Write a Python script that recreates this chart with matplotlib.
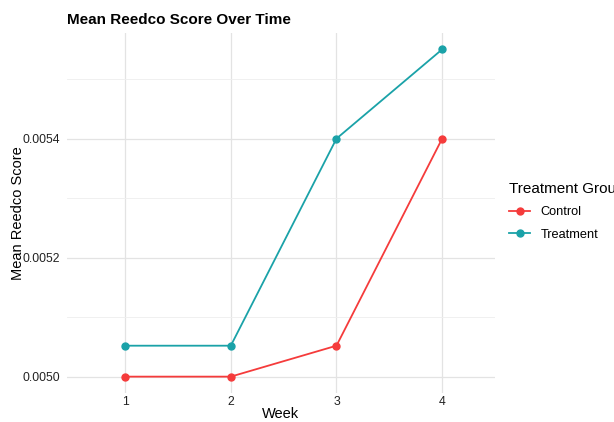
import matplotlib
matplotlib.use("Agg")
import matplotlib.pyplot as plt

weeks = [1, 2, 3, 4]
control = [0.005000, 0.005000, 0.005052, 0.005400]
treatment = [0.005052, 0.005052, 0.005400, 0.005550]
yticks = [0.0050, 0.0052, 0.0054]
ytick_labels = ["0.0050", "0.0052", "0.0054"]

plt.rcParams["font.family"] = ["Liberation Sans", "DejaVu Sans"]

fig = plt.figure(figsize=(6.14, 4.22), dpi=100)
# panel box in pixels
ax = fig.add_axes([67 / 614, 1 - 393 / 422, (495 - 67) / 614, (393 - 33) / 422])

ax.plot(weeks, control, color="#F53B3B", marker="o", markersize=5, lw=1.3, label="Control")
ax.plot(weeks, treatment, color="#1AA2A8", marker="o", markersize=5, lw=1.3, label="Treatment")

ax.set_xlim(0.45, 4.5)
ax.set_ylim(0.0049725, 0.0055775)
ax.set_xticks(weeks)
ax.set_yticks(yticks)
ax.set_yticklabels(ytick_labels)
ax.set_yticks([0.0051, 0.0053, 0.0055], minor=True)
ax.grid(True, which="major", color="#E3E3E3", lw=0.9)
ax.grid(True, which="minor", axis="y", color="#EEEEEE", lw=0.6)
ax.set_axisbelow(True)
for s in ax.spines.values():
    s.set_visible(False)
ax.tick_params(axis="x", length=0, labelsize=8.8, colors="#222222", pad=2)
ax.tick_params(axis="y", length=0, labelsize=8.8, colors="#222222", pad=5)
ax.tick_params(which="minor", length=0)

ax.set_xlabel("Week", fontsize=10.5, va="center")
ax.xaxis.set_label_coords(0.5, (393 - 414) / 360)
ax.set_ylabel("Mean Reedco Score", fontsize=10.5, va="center")
ax.yaxis.set_label_coords((18 - 67) / 428, 0.5)
fig.text(67 / 614, 1 - 20 / 422, "Mean Reedco Score Over Time", fontsize=11,
         fontweight="bold", va="center", ha="left")

leg = ax.legend(title="Treatment Group", loc="upper left", bbox_to_anchor=(1.02, 0.60),
                frameon=False, fontsize=9.2, title_fontsize=11, handlelength=1.7,
                borderaxespad=0, labelspacing=0.8)
leg._legend_box.align = "left"

fig.savefig("out.png", dpi=100)
